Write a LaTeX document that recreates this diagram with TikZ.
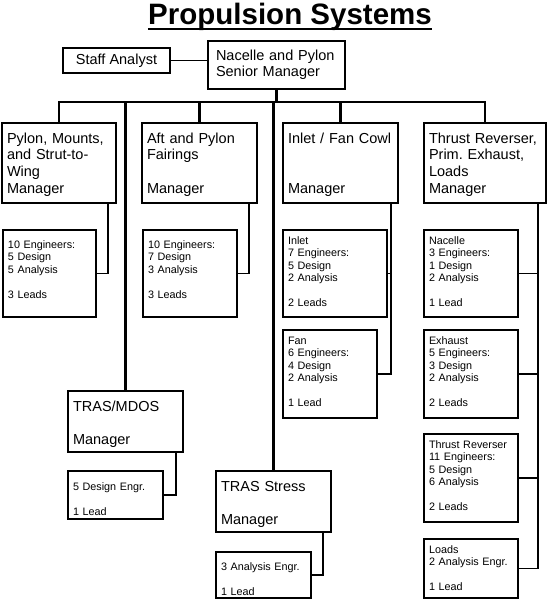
\documentclass[tikz,border=0pt]{standalone}
\usepackage{fontspec}
\setmainfont{Liberation Sans}
\frenchspacing
\usetikzlibrary{calc}

\begin{document}
\begin{tikzpicture}[x=1pt,y=-1pt,
  mgr/.style={draw,line width=2.6pt,anchor=north west,align=left,inner xsep=5pt,inner ysep=0pt,outer sep=0pt,text height=20pt,font=\fontsize{14.5}{16.7}\selectfont},
  crew/.style={draw,line width=1.6pt,anchor=north west,align=left,inner xsep=5pt,inner ysep=0pt,outer sep=0pt,text height=18pt,font=\fontsize{10.8}{12.5}\selectfont},
  unit/.style={crew,text height=14pt},
  bus/.style={line width=2.6pt,line join=miter},
  link/.style={line width=1.2pt}]
\useasboundingbox[fill=white] (0,0) rectangle (547,600);
\node[font=\bfseries\fontsize{29.5}{32}\selectfont,inner sep=0pt,anchor=base] (title) at (290,24.5) {Propulsion Systems};
\draw[line width=2.2pt] ($(title.south west)+(0,-2)$) -- ($(title.south east)+(0,-2)$);
\node[draw,line width=2.6pt,minimum width=107pt,minimum height=25pt,inner sep=0pt,outer sep=0pt,font=\fontsize{14.5}{16.7}\selectfont] (staff) at (116.5,60.5) {Staff Analyst};
\node[mgr,inner xsep=8pt,text width=121pt,text height=19pt,text depth=29pt] (senior) at (208,41) {Nacelle and Pylon\\ Senior Manager};
\node[mgr,text width=104pt,text depth=60pt] (pyl) at (2,123) {Pylon, Mounts,\\ and Strut-to-\\ Wing\\ Manager};
\node[mgr,text width=105pt,text depth=60pt] (aft) at (142,123) {Aft and Pylon\\ Fairings\\ \mbox{}\\ Manager};
\node[mgr,text width=105pt,text depth=60pt] (inl) at (283,123) {Inlet / Fan Cowl\\ \mbox{}\\ \mbox{}\\ Manager};
\node[mgr,text width=112pt,text depth=60pt] (thr) at (424,123) {Thrust Reverser,\\ Prim. Exhaust,\\ Loads\\ Manager};
\node[mgr,text width=105pt,text depth=41pt] (mdos) at (68,391) {TRAS/MDOS\\ \mbox{}\\ Manager};
\node[mgr,text width=105pt,text depth=41pt] (stress) at (216,471) {TRAS Stress\\ \mbox{}\\ Manager};
\node[crew,text width=83pt,text depth=69pt] (pylsub) at (3,230) {10 Engineers:\\ 5 Design\\ 5 Analysis\\ \mbox{}\\ 3 Leads};
\node[crew,text width=84pt,text depth=69pt] (aftsub) at (143,230) {10 Engineers:\\ 7 Design\\ 3 Analysis\\ \mbox{}\\ 3 Leads};
\node[unit,text width=94pt,text depth=73pt] (inlsub) at (283,230) {Inlet\\ 7 Engineers:\\ 5 Design\\ 2 Analysis\\ \mbox{}\\ 2 Leads};
\node[unit,text width=84pt,text depth=74pt] (fansub) at (283,330) {Fan\\ 6 Engineers:\\ 4 Design\\ 2 Analysis\\ \mbox{}\\ 1 Lead};
\node[unit,text width=84pt,text depth=73pt] (nacsub) at (424,230) {Nacelle\\ 3 Engineers:\\ 1 Design\\ 2 Analysis\\ \mbox{}\\ 1 Lead};
\node[unit,text width=84pt,text depth=74pt] (exhsub) at (424,330) {Exhaust\\ 5 Engineers:\\ 3 Design\\ 2 Analysis\\ \mbox{}\\ 2 Leads};
\node[unit,text width=84pt,text depth=74pt] (trsub) at (424,434) {Thrust Reverser\\ 11 Engineers:\\ 5 Design\\ 6 Analysis\\ \mbox{}\\ 2 Leads};
\node[unit,text width=84pt,text depth=45pt] (loadsub) at (424,539) {Loads\\ 2 Analysis Engr.\\ \mbox{}\\ 1 Lead};
\node[crew,text width=85pt,text height=19pt,text depth=29pt] (mdossub) at (68,471) {5 Design Engr.\\ \mbox{}\\ 1 Lead};
\node[crew,text width=85pt,text depth=28pt] (stresssub) at (216,552) {3 Analysis Engr.\\ \mbox{}\\ 1 Lead};
\coordinate (bus) at (0,102);
\draw[link] (staff.east) -- (staff.east -| senior.west);
\draw[bus] (senior.south) -- (senior.south |- bus);
\draw[bus] (pyl.north) |- (thr.north |- bus) -- (thr.north);
\foreach \m in {mdos,aft,stress,inl} \draw[bus] (\m.north |- bus) -- (\m.north);
\draw[link] ($(pyl.south east)+(-8,0)$) |- (pylsub.east);
\draw[link] ($(aft.south east)+(-8,0)$) |- (aftsub.east);
\draw[link] ($(mdos.south east)+(-7,0)$) |- (mdossub.east);
\draw[link] ($(stress.south east)+(-8,0)$) |- (stresssub.east);
\draw[link] ($(inl.south east)+(-7,0)$) coordinate (inlx) |- (fansub.east);
\draw[link] (inlsub.east) -- (inlsub.east -| inlx);
\draw[link] ($(thr.south east)+(-8,0)$) coordinate (thrx) |- (loadsub.east);
\foreach \s in {nacsub,exhsub,trsub} \draw[link] (\s.east) -- (\s.east -| thrx);
\end{tikzpicture}
\end{document}
